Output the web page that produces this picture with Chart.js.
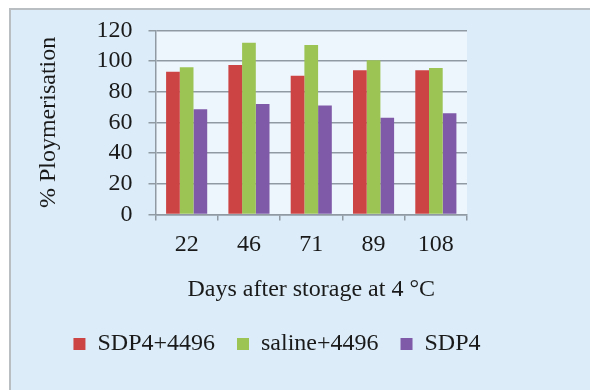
<!DOCTYPE html>
<html lang="en">
<head>
<meta charset="UTF-8">
<title>Polymerisation</title>
<script src="https://cdn.jsdelivr.net/npm/chart.js"></script>
<style>
  body { margin: 0; background: #ffffff; }
  .panel {
    position: absolute; left: 9px; top: 8px; width: 620px; height: 420px;
    background: #dcedf9; border: 2px solid #b9bec3;
  }
  .wrap { position: absolute; left: 0; top: 0; width: 590px; height: 390px; }
</style>
</head>
<body>
<div class="panel"></div>
<div class="wrap"><canvas id="chart"></canvas></div>
<script>
  const days = ['22', '46', '71', '89', '108'];
  const sdp4_4496 = [93, 97.5, 90.5, 94, 94];
  const saline_4496 = [96, 112, 110.5, 100.5, 95.5];
  const sdp4 = [68.5, 72, 71, 63, 66];

  const serif = "'Liberation Serif', 'Times New Roman', serif";
  const ink = '#1a1a1a';

  // lighter fill behind the plot area
  const plotBg = {
    id: 'plotBg',
    beforeDraw(chart) {
      const a = chart.chartArea;
      chart.ctx.save();
      chart.ctx.fillStyle = '#eef6fd';
      chart.ctx.fillRect(a.left, a.top, a.right - a.left, a.bottom - a.top);
      chart.ctx.restore();
    }
  };

  new Chart(document.getElementById('chart'), {
    type: 'bar',
    data: {
      labels: days,
      datasets: [
        { label: 'SDP4+4496', data: sdp4_4496, backgroundColor: '#cc4444' },
        { label: 'saline+4496', data: saline_4496, backgroundColor: '#9cc454' },
        { label: 'SDP4', data: sdp4, backgroundColor: '#7f5aa8' }
      ]
    },
    options: {
      responsive: true,
      maintainAspectRatio: false,
      animation: false,
      layout: { padding: { left: 34, right: 70, top: 28, bottom: 24 } },
      datasets: { bar: { categoryPercentage: 0.66, barPercentage: 1 } },
      plugins: {
        tooltip: { enabled: false },
        legend: {
          position: 'bottom',
          labels: {
            font: { family: serif, size: 24 },
            color: ink,
            boxWidth: 12,
            boxHeight: 12,
            padding: 22
          }
        }
      },
      scales: {
        x: {
          grid: { display: true, drawOnChartArea: false, color: '#8f9aa3', lineWidth: 1.5, tickLength: 6 },
          border: { color: '#8f9aa3', width: 1.5 },
          ticks: { font: { family: serif, size: 24 }, color: ink, padding: 10 },
          title: {
            display: true,
            text: 'Days after storage at 4 °C',
            font: { family: serif, size: 24 },
            color: ink,
            padding: { top: 6, bottom: 6 }
          }
        },
        y: {
          min: 0,
          max: 120,
          ticks: { stepSize: 20, autoSkip: false, font: { family: serif, size: 24 }, color: ink, padding: 16 },
          grid: { color: '#8f9aa3', lineWidth: 1.5, tickLength: 7 },
          border: { color: '#8f9aa3', width: 1.5 },
          title: {
            display: true,
            text: '% Ploymerisation',
            font: { family: serif, size: 24 },
            color: ink,
            padding: { top: 0, bottom: 26 }
          }
        },
        yPad: {
          position: 'right',
          display: true,
          grid: { display: false },
          border: { display: false },
          ticks: { display: false },
          afterFit(scale) { scale.width = 53; }
        }
      }
    },
    plugins: [plotBg]
  });
</script>
</body>
</html>
